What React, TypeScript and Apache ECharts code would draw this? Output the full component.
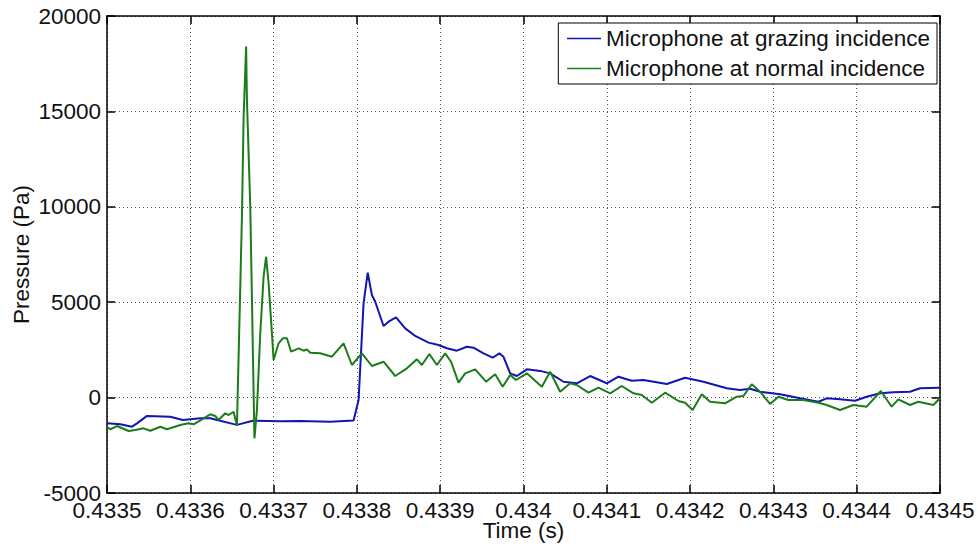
import React, { useEffect, useRef } from "react";
import * as echarts from "echarts";

// Time offsets in microseconds from 0.4335 s are converted to seconds below
const T0 = 0.4335;
const blueTimeUs = [0, 16, 30, 36, 48, 76, 91, 112, 124, 132, 156, 175, 208, 232, 268, 296, 302, 308, 313, 318, 322, 332, 338, 347, 358, 370, 386, 398, 408, 420, 432, 440, 452, 463, 471, 476, 484, 492, 504, 520, 532, 548, 564, 580, 600, 614, 630, 644, 672, 694, 716, 744, 760, 772, 784, 808, 832, 854, 864, 880, 898, 912, 928, 944, 964, 976, 998, 1000];
const bluePressure = [-1350, -1400, -1525, -1350, -960, -1000, -1170, -1085, -1080, -1170, -1430, -1210, -1240, -1220, -1260, -1200, -130, 4940, 6545, 5380, 5025, 3750, 3980, 4210, 3630, 3230, 2880, 2755, 2585, 2460, 2665, 2615, 2320, 2090, 2320, 2140, 1270, 1130, 1480, 1400, 1270, 830, 750, 1130, 750, 1095, 885, 920, 713, 1043, 833, 487, 398, 466, 309, 173, -37, -215, -37, -89, -162, 47, 225, 278, 309, 487, 519, 520];

const greenTimeUs = [0, 4, 12, 26, 34, 44, 52, 64, 72, 88, 98, 104, 116, 124, 130, 134, 142, 146, 152, 156, 162, 164, 167, 168, 172, 174, 177, 180, 184, 188, 191, 194, 198, 200, 206, 211, 216, 221, 230, 236, 240, 244, 256, 270, 284, 294, 306, 318, 332, 346, 360, 372, 378, 387, 396, 406, 413, 422, 430, 442, 455, 466, 475, 484, 491, 504, 522, 532, 544, 556, 564, 578, 590, 604, 618, 632, 642, 654, 670, 686, 694, 703, 714, 724, 742, 756, 764, 774, 784, 796, 806, 818, 836, 854, 864, 880, 896, 912, 929, 942, 950, 964, 974, 992, 1000];
const greenPressure = [-1525, -1660, -1490, -1750, -1700, -1610, -1735, -1525, -1660, -1436, -1347, -1400, -1085, -875, -965, -1175, -823, -912, -740, -1480, 9480, 14720, 18400, 15594, 10000, 5114, -2133, -650, 3370, 6335, 7383, 5987, 3369, 1970, 2845, 3107, 3107, 2405, 2583, 2458, 2530, 2353, 2321, 2143, 2845, 1708, 2321, 1656, 1881, 1132, 1535, 2007, 1708, 2285, 1708, 2321, 1881, 781, 1273, 1483, 833, 1221, 571, 1184, 922, 1273, 571, 1357, 309, 749, 660, 257, 519, 225, 608, 225, 136, -267, 257, -178, -267, -650, 173, -215, -299, 47, 84, 697, 309, -335, 47, -126, -126, -267, -388, -650, -388, -477, 346, -477, -89, -388, -215, -388, -37];

const seriesNames = ["Microphone at grazing incidence", "Microphone at normal incidence"];
const xMin = 0.4335;
const xMax = 0.4345;
const xStep = 0.0001;
const yMin = -5000;
const yMax = 20000;
const yStep = 5000;

const FONT = "'Liberation Sans', Arial, sans-serif";
const FS = 22.5;

function pairs(tus: number[], p: number[]) {
  return tus.map((u, i) => [T0 + u * 1e-6, p[i]]);
}

export default function App() {
  const ref = useRef<HTMLDivElement>(null);
  useEffect(() => {
    if (!ref.current) return;
    const chart = echarts.init(ref.current, undefined, { renderer: "svg" });
    const axisLine = { show: true, onZero: false, lineStyle: { color: "#000", width: 1.5 } };
    const tick = { show: true, inside: true, length: 8, lineStyle: { color: "#000", width: 1.5 } };
    const split = { show: true, lineStyle: { color: "#555", type: [1, 3] as any, width: 1 } };
    const xLabel = {
      show: true,
      color: "#111",
      fontFamily: FONT,
      fontSize: FS,
      margin: 6,
      showMinLabel: true,
      showMaxLabel: true,
      hideOverlap: false,
      formatter: (v: number) => parseFloat(v.toFixed(4)).toString(),
    };
    const yLabel = {
      show: true,
      color: "#111",
      fontFamily: FONT,
      fontSize: FS,
      margin: 6,
      showMinLabel: true,
      showMaxLabel: true,
      hideOverlap: false,
      formatter: (v: number) => String(Math.round(v)),
    };
    chart.setOption({
      animation: false,
      backgroundColor: "#fff",
      grid: { left: 107, right: 38, top: 16, bottom: 54, outerBoundsMode: "none" },
      legend: {
        right: 41,
        top: 23,
        orient: "vertical",
        data: seriesNames,
        itemWidth: 34,
        itemHeight: 22,
        itemGap: 7,
        padding: [4, 7, 4, 8],
        borderColor: "#000",
        borderWidth: 1,
        backgroundColor: "#fff",
        itemStyle: { opacity: 0 },
        lineStyle: { width: 1.5 },
        textStyle: { fontFamily: FONT, fontSize: FS, color: "#111" },
      },
      xAxis: [
        {
          type: "value",
          min: xMin,
          max: xMax,
          interval: xStep,
          position: "bottom",
          name: "Time (s)",
          nameLocation: "middle",
          nameGap: 26,
          nameMoveOverlap: false,
          nameTextStyle: { fontFamily: FONT, fontSize: FS, color: "#111" },
          axisLine,
          axisTick: tick,
          axisLabel: xLabel,
          splitLine: split,
        },
        {
          type: "value",
          min: xMin,
          max: xMax,
          interval: xStep,
          position: "top",
          axisLine,
          axisTick: tick,
          axisLabel: { show: false },
          splitLine: { show: false },
        },
      ],
      yAxis: [
        {
          type: "value",
          min: yMin,
          max: yMax,
          interval: yStep,
          position: "left",
          name: "Pressure (Pa)",
          nameLocation: "middle",
          nameGap: 74,
          nameMoveOverlap: false,
          nameTextStyle: { fontFamily: FONT, fontSize: FS, color: "#111" },
          axisLine,
          axisTick: tick,
          axisLabel: yLabel,
          splitLine: split,
        },
        {
          type: "value",
          min: yMin,
          max: yMax,
          interval: yStep,
          position: "right",
          axisLine,
          axisTick: tick,
          axisLabel: { show: false },
          splitLine: { show: false },
        },
      ],
      series: [
        {
          name: seriesNames[0],
          type: "line",
          xAxisIndex: 0,
          yAxisIndex: 0,
          symbol: "none",
          data: pairs(blueTimeUs, bluePressure),
          lineStyle: { color: "#1414b4", width: 2 },
          itemStyle: { color: "#1414b4" },
        },
        {
          name: seriesNames[1],
          type: "line",
          xAxisIndex: 0,
          yAxisIndex: 0,
          symbol: "none",
          data: pairs(greenTimeUs, greenPressure),
          lineStyle: { color: "#1a7d1a", width: 2 },
          itemStyle: { color: "#1a7d1a" },
        },
      ],
    });
    return () => chart.dispose();
  }, []);
  return (
    <div
      ref={ref}
      style={{ position: "fixed", left: 0, top: 0, width: 978, height: 547, background: "#fff" }}
    />
  );
}
